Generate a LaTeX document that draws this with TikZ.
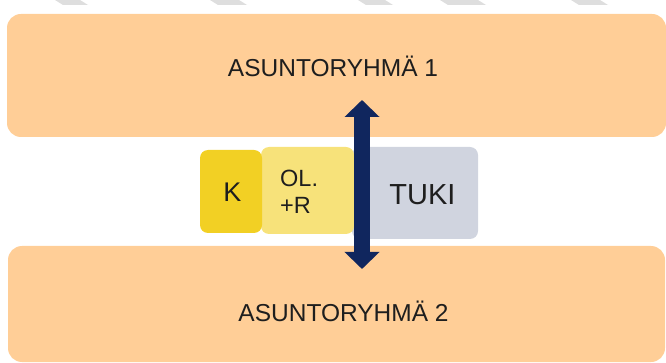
\documentclass[tikz,border=0pt]{standalone}
\usepackage{fontspec}
\setmainfont{Liberation Sans}
\usepackage{tikz}
\usepackage{xcolor}
\usetikzlibrary{arrows.meta}
\definecolor{groupfill}{RGB}{255,206,151}
\definecolor{kfill}{RGB}{242,208,36}
\definecolor{olfill}{RGB}{247,226,122}
\definecolor{tukifill}{RGB}{208,212,223}
\definecolor{arrownavy}{RGB}{16,38,94}
\definecolor{stripegrey}{RGB}{222,222,222}
\definecolor{textdark}{RGB}{30,30,30}
\tikzset{
    group-box/.style = {fill=groupfill, rectangle, rounded corners=14pt, inner sep=0pt},
    group-text/.style = {anchor=base, text=textdark, inner sep=0pt, font=\fontsize{24.5}{29}\selectfont},
    part-box/.style = {rectangle, rounded corners=8pt, inner sep=0pt},
    part-text/.style = {text=textdark, inner sep=0pt},
    link-arrow/.style = {draw=arrownavy, line width=16pt, {Triangle[width=34pt,length=17pt]}-{Triangle[width=34pt,length=17pt]}},
}

\begin{document}
\begin{tikzpicture}[x=1pt,y=-1pt]
\useasboundingbox (0,0) rectangle (666,363);
\foreach \s/\e in {55/88,210/247,358/393,440/486,571/608}
    \fill[stripegrey] (\s,0) -- (\e-8,0) -- (\e,5) -- (\s+8,5) -- cycle;
\node[group-box, minimum width=659pt, minimum height=123pt] (group1) at (336.5,75.5) {};
\node[group-box, minimum width=657pt, minimum height=116pt] (group2) at (336.5,304) {};
\node[group-text] (group1-label) at (333,77) {ASUNTORYHMÄ 1};
\node[group-text] (group2-label) at (343.5,321) {ASUNTORYHMÄ 2};
\node[part-box, fill=tukifill, minimum width=126pt, minimum height=92pt] (tuki) at (415,193) {};
\node[part-box, fill=olfill, minimum width=93pt, minimum height=87pt] (ol) at (307.5,190.5) {};
\node[part-box, fill=kfill, minimum width=62pt, minimum height=83pt] (k) at (231,191.5) {};
\node[part-text, anchor=base, font=\fontsize{27}{32}\selectfont] (k-label) at (232.5,202) {K};
\node[part-text, anchor=north west, align=left, font=\fontsize{23.5}{27}\selectfont] (ol-label) at (280,170) {OL.\\+R};
\node[part-text, anchor=base, font=\fontsize{29}{34}\selectfont] (tuki-label) at (422.5,205) {TUKI};
\coordinate (arrow-top) at (362,100);
\coordinate (arrow-bottom) at (362,269);
\draw[link-arrow] (arrow-top) -- (arrow-bottom);
\end{tikzpicture}
\end{document}
